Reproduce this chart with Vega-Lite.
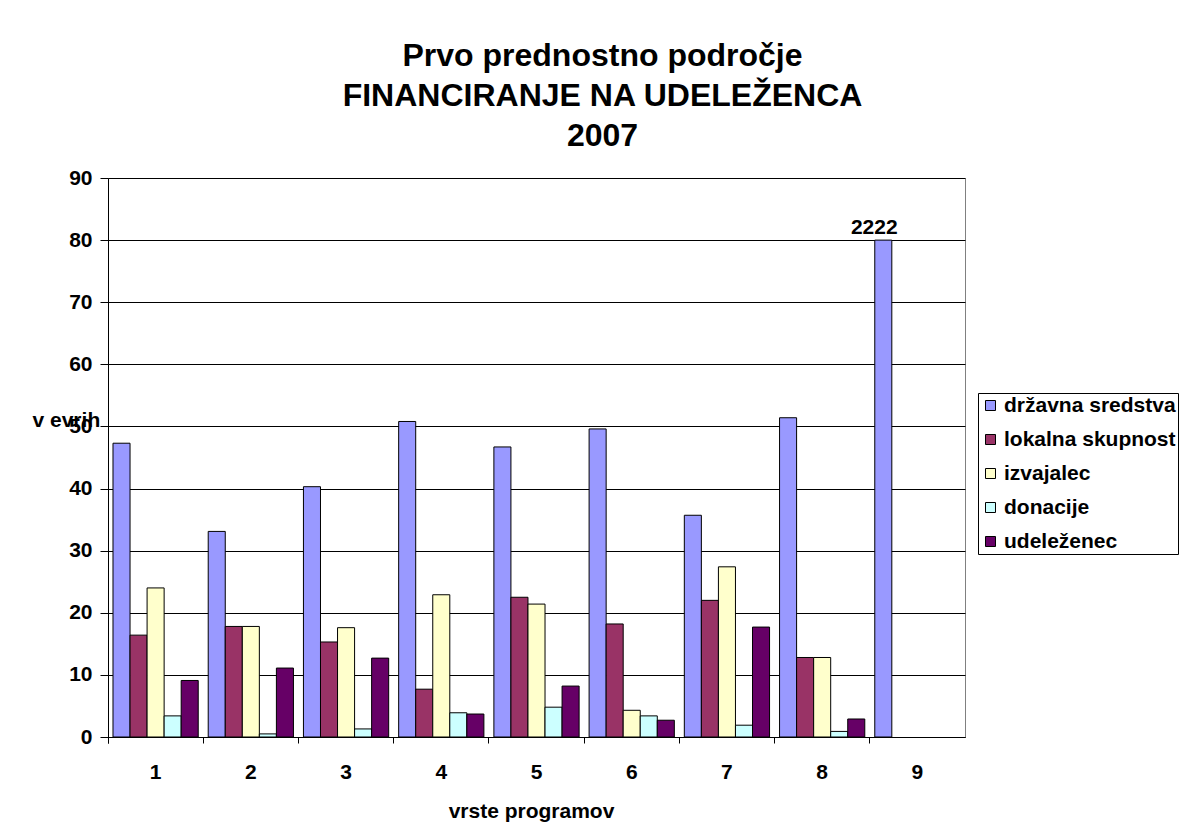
{
  "$schema": "https://vega.github.io/schema/vega-lite/v6.json",
  "width": 857,
  "height": 559,
  "autosize": {"type": "none"},
  "padding": {"left": 108, "top": 178, "right": 224, "bottom": 102},
  "background": "white",
  "title": {
    "text": ["Prvo prednostno področje", "FINANCIRANJE NA UDELEŽENCA", "2007"],
    "frame": "group",
    "anchor": "middle",
    "dx": 66,
    "offset": 14,
    "fontSize": 32,
    "lineHeight": 40,
    "font": "Liberation Sans",
    "fontWeight": "bold",
    "color": "black"
  },
  "data": {
    "values": [
      {"program": 1, "vir": "državna sredstva", "vrednost": 47.3},
      {"program": 1, "vir": "lokalna skupnost", "vrednost": 16.4},
      {"program": 1, "vir": "izvajalec", "vrednost": 24.0},
      {"program": 1, "vir": "donacije", "vrednost": 3.4},
      {"program": 1, "vir": "udeleženec", "vrednost": 9.1},
      {"program": 2, "vir": "državna sredstva", "vrednost": 33.1},
      {"program": 2, "vir": "lokalna skupnost", "vrednost": 17.8},
      {"program": 2, "vir": "izvajalec", "vrednost": 17.8},
      {"program": 2, "vir": "donacije", "vrednost": 0.5},
      {"program": 2, "vir": "udeleženec", "vrednost": 11.1},
      {"program": 3, "vir": "državna sredstva", "vrednost": 40.3},
      {"program": 3, "vir": "lokalna skupnost", "vrednost": 15.3},
      {"program": 3, "vir": "izvajalec", "vrednost": 17.6},
      {"program": 3, "vir": "donacije", "vrednost": 1.3},
      {"program": 3, "vir": "udeleženec", "vrednost": 12.7},
      {"program": 4, "vir": "državna sredstva", "vrednost": 50.8},
      {"program": 4, "vir": "lokalna skupnost", "vrednost": 7.7},
      {"program": 4, "vir": "izvajalec", "vrednost": 22.9},
      {"program": 4, "vir": "donacije", "vrednost": 3.9},
      {"program": 4, "vir": "udeleženec", "vrednost": 3.7},
      {"program": 5, "vir": "državna sredstva", "vrednost": 46.7},
      {"program": 5, "vir": "lokalna skupnost", "vrednost": 22.5},
      {"program": 5, "vir": "izvajalec", "vrednost": 21.4},
      {"program": 5, "vir": "donacije", "vrednost": 4.8},
      {"program": 5, "vir": "udeleženec", "vrednost": 8.2},
      {"program": 6, "vir": "državna sredstva", "vrednost": 49.6},
      {"program": 6, "vir": "lokalna skupnost", "vrednost": 18.2},
      {"program": 6, "vir": "izvajalec", "vrednost": 4.3},
      {"program": 6, "vir": "donacije", "vrednost": 3.4},
      {"program": 6, "vir": "udeleženec", "vrednost": 2.7},
      {"program": 7, "vir": "državna sredstva", "vrednost": 35.7},
      {"program": 7, "vir": "lokalna skupnost", "vrednost": 22.0},
      {"program": 7, "vir": "izvajalec", "vrednost": 27.4},
      {"program": 7, "vir": "donacije", "vrednost": 1.9},
      {"program": 7, "vir": "udeleženec", "vrednost": 17.7},
      {"program": 8, "vir": "državna sredstva", "vrednost": 51.4},
      {"program": 8, "vir": "lokalna skupnost", "vrednost": 12.8},
      {"program": 8, "vir": "izvajalec", "vrednost": 12.8},
      {"program": 8, "vir": "donacije", "vrednost": 0.9},
      {"program": 8, "vir": "udeleženec", "vrednost": 2.9},
      {"program": 9, "vir": "državna sredstva", "vrednost": 80, "oznaka": "2222"}
    ]
  },
  "encoding": {
    "x": {
      "field": "program",
      "type": "ordinal",
      "scale": {"paddingInner": 0, "paddingOuter": 0},
      "axis": {
        "title": "vrste programov",
        "labelAngle": 0,
        "bandPosition": 0,
        "tickExtra": true,
        "tickSize": 6,
        "labelPadding": 18,
        "labelFontSize": 21,
        "labelFontWeight": "bold",
        "labelColor": "black",
        "titleFontSize": 21,
        "titleFontWeight": "bold",
        "titleColor": "black",
        "titleY": 80,
        "titleX": 423,
        "titleBaseline": "alphabetic",
        "domainColor": "black",
        "tickColor": "black",
        "grid": false
      }
    },
    "xOffset": {
      "field": "vir",
      "type": "nominal",
      "sort": ["državna sredstva", "lokalna skupnost", "izvajalec", "donacije", "udeleženec"],
      "scale": {"paddingInner": 0, "paddingOuter": 0.293}
    },
    "y": {
      "field": "vrednost",
      "type": "quantitative",
      "scale": {"domain": [0, 90], "nice": false},
      "axis": {
        "values": [0, 10, 20, 30, 40, 50, 60, 70, 80, 90],
        "title": "v evrih",
        "titleAngle": 0,
        "titleAlign": "left",
        "titleBaseline": "middle",
        "titleX": -76,
        "titleY": 242,
        "titleFontSize": 21,
        "titleFontWeight": "bold",
        "titleColor": "black",
        "tickSize": 8,
        "labelPadding": 8,
        "labelFontSize": 21,
        "labelFontWeight": "bold",
        "labelColor": "black",
        "domainColor": "black",
        "tickColor": "black",
        "grid": true,
        "gridColor": "black",
        "gridOpacity": 1
      }
    }
  },
  "layer": [
    {
      "mark": {"type": "bar", "stroke": "black", "strokeWidth": 1},
      "encoding": {
        "color": {
          "field": "vir",
          "type": "nominal",
          "scale": {
            "domain": ["državna sredstva", "lokalna skupnost", "izvajalec", "donacije", "udeleženec"],
            "range": ["#9999FF", "#993366", "#FFFFCC", "#CCFFFF", "#660066"]
          },
          "legend": {
            "title": null,
            "orient": "none",
            "legendX": 870,
            "legendY": 215,
            "padding": 2,
            "strokeColor": "black",
            "fillColor": "white",
            "symbolType": "square",
            "symbolSize": 100,
            "symbolStrokeColor": "black",
            "symbolStrokeWidth": 1,
            "symbolOpacity": 1,
            "labelFontSize": 21,
            "labelFontWeight": "bold",
            "labelColor": "black",
            "labelOffset": 3,
            "rowPadding": 12,
            "labelLimit": 400
          }
        }
      }
    },
    {
      "transform": [{"filter": "isValid(datum.oznaka)"}],
      "mark": {"type": "text", "baseline": "bottom", "dy": -2, "dx": -9, "fontSize": 21, "fontWeight": "bold", "color": "black"},
      "encoding": {"text": {"field": "oznaka"}}
    }
  ],
  "config": {
    "font": "Liberation Sans",
    "view": {"stroke": "#808080", "strokeWidth": 1}
  }
}
